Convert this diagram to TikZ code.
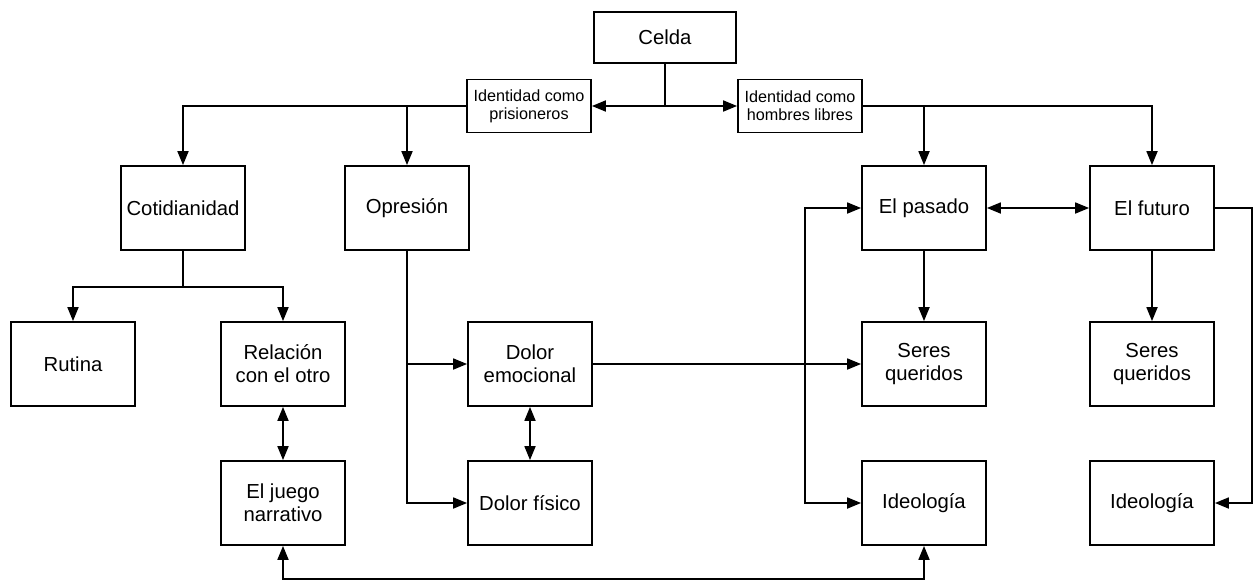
\documentclass[tikz,border=0pt]{standalone}
\usepackage{fontspec}
\setmainfont{Liberation Sans}
\usetikzlibrary{arrows.meta}
\begin{document}
\begin{tikzpicture}[x=1pt,y=-1pt,
  box/.style={draw,line width=1.8pt,minimum width=124pt,minimum height=84pt,inner sep=0pt,align=center,font=\fontsize{20.3}{23}\selectfont},
  smallbox/.style={box,minimum height=53pt,font=\fontsize{16.2}{18}\selectfont},
  conn/.style={line width=1.8pt,arrows={-Triangle[length=14pt,width=11pt]}},
  bconn/.style={line width=1.8pt,arrows={Triangle[length=14pt,width=11pt]-Triangle[length=14pt,width=11pt]}},
  plain/.style={line width=1.8pt}]
\useasboundingbox (0,0) rectangle (1258,582);
\node[box,minimum width=142pt,minimum height=51pt] (celda) at (665,37.5) {Celda};
\node[smallbox] (pris) at (529,106) {Identidad como\\prisioneros};
\node[smallbox] (homb) at (800,106) {Identidad como\\hombres libres};
\node[box] (cot) at (183,208) {Cotidianidad};
\node[box] (opr) at (407,208) {Opresión};
\node[box] (pas) at (924,208) {El pasado};
\node[box] (fut) at (1152,208) {El futuro};
\node[box] (rut) at (73,364) {Rutina};
\node[box] (rel) at (283,364) {Relación\\con el otro};
\node[box] (demo) at (530,364) {Dolor\\emocional};
\node[box] (sq1) at (924,364) {Seres\\queridos};
\node[box] (sq2) at (1152,364) {Seres\\queridos};
\node[box] (jue) at (283,503) {El juego\\narrativo};
\node[box] (dfis) at (530,503) {Dolor físico};
\node[box] (ide1) at (924,503) {Ideología};
\node[box] (ide2) at (1152,503) {Ideología};
% top
\draw[plain] (celda.south) -- (celda.south |- pris.east) coordinate (cm);
\draw[conn] (cm) -- (pris.east);
\draw[conn] (cm) -- (homb.west);
\draw[conn] (pris.west) -| (cot.north);
\draw[conn] (pris.west -| opr.north) -- (opr.north);
\draw[conn] (homb.east) -| (fut.north);
\draw[conn] (homb.east -| pas.north) -- (pas.north);
% cotidianidad
\draw[plain] (cot.south) -- ++(0,36) coordinate (cj);
\draw[conn] (cj) -| (rut.north);
\draw[conn] (cj) -| (rel.north);
\draw[bconn] (rel.south) -- (jue.north);
% opresion
\draw[conn] (opr.south) |- (dfis.west);
\draw[conn] (opr.south |- demo.west) -- (demo.west);
\draw[bconn] (demo.south) -- (dfis.north);
\draw[conn] (demo.east) -- (sq1.west);
% pasado / futuro
\draw[bconn] (pas.west) -- ++(-56,0) |- (ide1.west);
\draw[bconn] (pas.east) -- (fut.west);
\draw[conn] (pas.south) -- (sq1.north);
\draw[conn] (fut.south) -- (sq2.north);
\draw[conn] (fut.east) -- ++(37,0) |- (ide2.east);
% bottom
\draw[bconn] (jue.south) -- ++(0,33) -| (ide1.south);
\end{tikzpicture}
\end{document}
